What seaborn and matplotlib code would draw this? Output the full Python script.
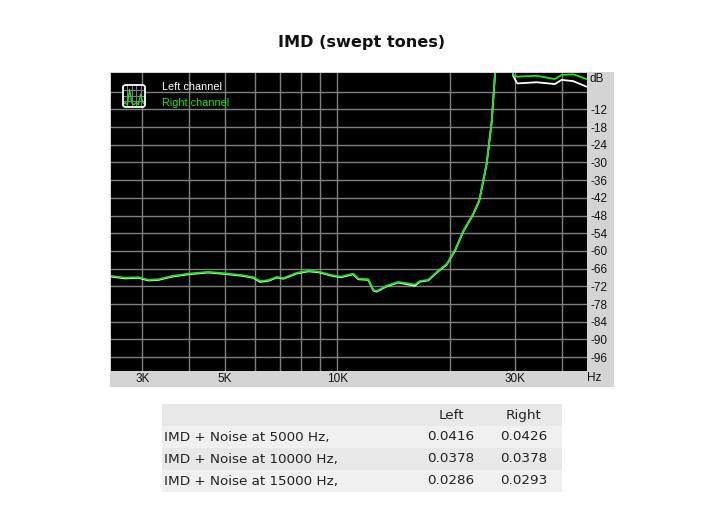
import matplotlib
matplotlib.use("Agg")
import matplotlib.pyplot as plt
from matplotlib.patches import Rectangle, FancyBboxPatch
import pandas as pd
import seaborn as sns

title = "IMD (swept tones)"
freq_hz = [2476, 2697, 2926, 3113, 3314, 3598, 3988, 4507, 4998, 5543, 5952, 6202, 6529,
           6880, 7161, 7787, 8358, 8887, 9657, 10226, 11030, 11377, 12098, 12478, 12742,
           13550, 14550, 16130, 16640, 17520, 18630, 19640, 20670, 21760, 23150, 24020,
           25130, 25920, 26460, 27500, 29300, 29630, 30370, 34220, 38290, 39920, 42860, 46570]
left_db = [-68.7, -69.3, -69.1, -70.0, -69.8, -68.7, -67.9, -67.3, -67.8, -68.4, -69.1, -70.5, -70.1,
           -69.0, -69.4, -67.6, -66.9, -67.2, -68.4, -68.9, -67.9, -69.6, -69.8, -73.4, -73.8,
           -72.0, -70.7, -71.8, -70.4, -70.0, -66.9, -64.6, -59.9, -53.4, -47.5, -42.9,
           -30.5, -16.4, -0.2, 12, 5, -0.8, -3.2, -2.8, -3.4, -2.0, -2.4, -4.3]
right_db = [-68.5, -69.05, -68.9, -69.8, -69.6, -68.5, -67.7, -67.1, -67.6, -68.2, -68.9, -70.2, -69.9,
            -68.8, -69.2, -67.4, -66.7, -67.0, -68.2, -68.7, -67.7, -69.4, -69.6, -73.2, -73.6,
            -71.8, -70.5, -71.4, -70.2, -69.8, -66.7, -64.4, -59.7, -53.2, -47.3, -42.7,
            -30.3, -16.2, 0.0, 12, 5, -0.3, -0.9, -0.6, -1.7, -0.3, -0.1, -1.7]

major_freqs = [3000, 5000, 10000, 30000]
major_labels = ["3K", "5K", "10K", "30K"]
minor_freqs = [4000, 6000, 7000, 8000, 9000, 20000, 40000]
db_grid = [-6, -12, -18, -24, -30, -36, -42, -48, -54, -60, -66, -72, -78, -84, -90, -96]
db_labels = ["", "-12", "-18", "-24", "-30", "-36", "-42", "-48", "-54", "-60", "-66",
             "-72", "-78", "-84", "-90", "-96"]

table_header = ["", "Left", "Right"]
table_rows = ["IMD + Noise at 5000 Hz,", "IMD + Noise at 10000 Hz,", "IMD + Noise at 15000 Hz,"]
table_left = ["0.0416", "0.0378", "0.0286"]
table_right = ["0.0426", "0.0378", "0.0293"]

icon_x = [0, 1, 2, 3, 4, 5, 6, 7, 8, 9, 10]
icon_y = [1, 2, 1, 8, 2, 1, 2, 1, 6, 2, 1]

W, H = 719, 529
def box(x0, y0, x1, y1):
    return [x0 / W, 1 - y1 / H, (x1 - x0) / W, (y1 - y0) / H]

sns.set_theme(style="white")
plt.rcParams["font.family"] = ["DejaVu Sans"]
fig = plt.figure(figsize=(W / 100, H / 100), dpi=100, facecolor="white")

fig.add_artist(Rectangle((110 / W, 1 - 387 / H), 504 / W, 315 / H, transform=fig.transFigure,
                         facecolor="#d4d4d4", edgecolor="none", zorder=0))

ax = fig.add_axes(box(111, 73, 587, 371), facecolor="black", zorder=2)
df = pd.DataFrame({"Hz": freq_hz * 2, "dB": left_db + right_db,
                   "channel": ["Left"] * len(freq_hz) + ["Right"] * len(freq_hz)})
sns.lineplot(data=df, x="Hz", y="dB", hue="channel", palette={"Left": "#ffffff", "Right": "#19e619"},
             linewidth=1.3, sort=False, estimator=None, legend=False, ax=ax, zorder=3)
ax.set_xscale("log")
ax.set_xlim(2470, 46700)
ax.set_ylim(-100.7, 0.34)
ax.set_xticks(major_freqs, major_labels, fontsize=8.5, family="Liberation Sans", color="#111111")
ax.set_xticks(minor_freqs, [""] * len(minor_freqs), minor=True)
ax.set_yticks(db_grid, db_labels, fontsize=8.5, family="Liberation Sans", color="#111111")
ax.yaxis.tick_right()
ax.tick_params(axis="both", which="both", length=0)
ax.tick_params(axis="x", which="major", pad=1.5)
ax.tick_params(axis="y", pad=2.5)
ax.grid(True, which="both", axis="both", color="#808080", linewidth=1)
ax.set_axisbelow(True)
ax.set_xlabel("")
ax.set_ylabel("")
for s in ax.spines.values():
    s.set_visible(False)

fig.text(589 / W, 1 - 79 / H, "dB", fontsize=8.5, family="Liberation Sans", va="center", color="#111111", zorder=3)
fig.text(587 / W, 1 - 378 / H, "Hz", fontsize=8.5, family="Liberation Sans", va="center", color="#111111", zorder=3)
fig.text(162 / W, 1 - 87 / H, "Left channel", fontsize=7.8, family="Liberation Sans", va="center", color="white", zorder=5)
fig.text(162 / W, 1 - 103 / H, "Right channel", fontsize=7.8, family="Liberation Sans", va="center", color="#19e619", zorder=5)

icon = fig.add_axes(box(123, 85, 145, 107), facecolor="black", zorder=4)
sns.lineplot(x=icon_x, y=icon_y, color="#19e619", linewidth=0.9, ax=icon, zorder=3)
icon.set_xlim(0, 10)
icon.set_ylim(0, 10)
icon.set_xticks([2, 4, 6, 8], ["", "", "", ""])
icon.set_yticks([2.5, 5, 7.5], ["", "", ""])
icon.tick_params(length=0)
icon.grid(True, color="#808080", linewidth=0.7)
for s in icon.spines.values():
    s.set_visible(False)
fig.add_artist(FancyBboxPatch((123 / W, 1 - 107 / H), 22 / W, 22 / H, transform=fig.transFigure,
                              boxstyle="round,pad=0,rounding_size=0.004", facecolor="none",
                              edgecolor="white", linewidth=1.3, zorder=6))

fig.text(361.5 / W, 1 - 42 / H, title, ha="center", va="center", fontsize=11.6, fontweight="bold", color="#111111")

tab = fig.add_axes(box(162, 404, 562, 492), zorder=2)
tab.set_xlim(162, 562)
tab.set_ylim(492, 404)
tab.axis("off")
row_tops = [404, 426, 448, 470]
row_cols = ["#e8e8e8", "#f0f0f0", "#e8e8e8", "#f0f0f0"]
for top, col in zip(row_tops, row_cols):
    tab.add_patch(Rectangle((162, top), 400, 22, facecolor=col, edgecolor="none"))
tkw = dict(fontsize=9.7, va="center", color="#222222")
tab.text(451, 415.5, table_header[1], ha="center", **tkw)
tab.text(524, 415.5, table_header[2], ha="center", **tkw)
for top, name, l, r in zip(row_tops[1:], table_rows, table_left, table_right):
    tab.text(164.5, top + 11, name, ha="left", **tkw)
    tab.text(451, top + 11, l, ha="center", **tkw)
    tab.text(524, top + 11, r, ha="center", **tkw)

fig.savefig("out.png", dpi=100)
